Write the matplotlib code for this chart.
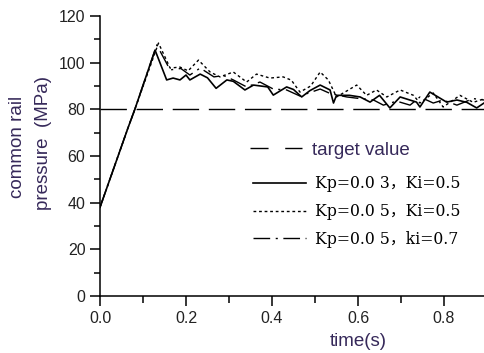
import numpy as np
import matplotlib.pyplot as plt
from matplotlib.lines import Line2D
from matplotlib.ticker import MultipleLocator, FormatStrFormatter

# data
t_a = [0, 0.065, 0.081, 0.128, 0.155, 0.17, 0.186, 0.2, 0.209, 0.233, 0.25, 0.27,
       0.295, 0.31, 0.337, 0.357, 0.39, 0.403, 0.434, 0.45, 0.469, 0.488, 0.512,
       0.535, 0.543, 0.55, 0.58, 0.605, 0.628, 0.65, 0.674, 0.698, 0.736, 0.744,
       0.767, 0.806, 0.83, 0.853, 0.876, 0.893]
p_a = [38, 72, 80, 105.4, 92.6, 93.4, 92.6, 94.7, 92.6, 95.1, 93.5, 89,
       92.6, 92, 88.3, 90.4, 89.6, 86.1, 89.6, 88.5, 85.3, 88, 90.4,
       88.3, 82.7, 86, 86, 85.3, 83.1, 86, 80.6, 85.3, 83.1, 81,
       87.4, 83.1, 84, 83, 80.6, 82.7]

t_b = [0, 0.065, 0.081, 0.136, 0.163, 0.186, 0.205, 0.229, 0.256, 0.279, 0.31,
       0.341, 0.364, 0.395, 0.426, 0.445, 0.465, 0.49, 0.512, 0.531, 0.55, 0.575,
       0.597, 0.62, 0.643, 0.667, 0.698, 0.729, 0.744, 0.775, 0.798, 0.837, 0.868,
       0.893]
p_b = [38, 72, 80, 108.4, 97.7, 98.1, 96.5, 101.1, 96, 93.9, 96,
       91.7, 95.1, 93.4, 93.9, 92.5, 87.4, 90, 96, 92.6, 85.3, 88,
       90.4, 86, 88.3, 85.3, 88.3, 86, 82.7, 87, 81, 86, 83,
       84.5]

t_c = [0, 0.065, 0.081, 0.132, 0.163, 0.188, 0.209, 0.233, 0.265, 0.287, 0.31,
       0.341, 0.372, 0.403, 0.434, 0.465, 0.512, 0.535, 0.574, 0.605, 0.636,
       0.659, 0.69, 0.721, 0.744, 0.775, 0.798, 0.83, 0.868, 0.893]
p_c = [38, 72, 80, 107.6, 96.9, 97.5, 94.7, 97.7, 93.9, 94.5, 92.6,
       89.6, 91.7, 88.7, 88.3, 85.7, 88.7, 86.8, 85.3, 84.6, 84,
       81.8, 83.5, 81.8, 85.3, 82.7, 84, 81.8, 84.6, 84]

target = 80
target_label = 'target value'
labels = ['Kp=0.0 3，Ki=0.5', 'Kp=0.0 5，Ki=0.5', 'Kp=0.0 5，ki=0.7']

txt_col = '#36295a'

fig = plt.figure(figsize=(4.84, 3.53), dpi=100)
ax = fig.add_axes([100/484, 57/353, 384/484, 280/353])

ax.plot([0, 0.893], [target, target], color='black', lw=1.0, dashes=(19, 7))
h1, = ax.plot(t_a, p_a, color='black', lw=1.2)
h2, = ax.plot(t_b, p_b, color='black', lw=1.0, dashes=(2, 2))
h3, = ax.plot(t_c, p_c, color='black', lw=1.0, dashes=(12, 4, 1.5, 4))

ax.set_xlim(0, 0.893)
ax.set_ylim(0, 120)
ax.spines['top'].set_visible(False)
ax.spines['right'].set_visible(False)
ax.spines['left'].set_linewidth(1.1)
ax.spines['bottom'].set_linewidth(1.1)
ax.xaxis.set_major_locator(MultipleLocator(0.2))
ax.xaxis.set_minor_locator(MultipleLocator(0.1))
ax.xaxis.set_major_formatter(FormatStrFormatter('%.1f'))
ax.yaxis.set_major_locator(MultipleLocator(20))
ax.yaxis.set_minor_locator(MultipleLocator(10))
ax.tick_params(which='major', length=7, width=1.1, labelsize=11.5, labelcolor='#222222')
ax.tick_params(which='minor', length=4, width=1.1)
ax.tick_params(axis='x', which='minor', length=5)
for lab in ax.get_xticklabels() + ax.get_yticklabels():
    lab.set_family('Liberation Sans')

fig.text(358/484, 1 - 341/353, 'time(s)', ha='center', va='center',
         fontsize=13.5, color=txt_col, family='Liberation Sans')
fig.text(18/484, 1 - 147/353, 'common rail', rotation=90, ha='center', va='center',
         fontsize=13.5, color=txt_col, family='Liberation Sans')
fig.text(44/484, 1 - 143/353, 'pressure  (MPa)', rotation=90, ha='center', va='center',
         fontsize=13.5, color=txt_col, family='Liberation Sans')

# legend for the target line, own entry (larger sans text)
tgt_handle = Line2D([], [], color='black', lw=1.0, dashes=(13, 12))
leg1 = ax.legend([tgt_handle], [target_label], loc='center left',
                 bbox_to_anchor=(150/384, (296 - 150)/280), frameon=False,
                 borderpad=0, borderaxespad=0, handlelength=2.77, handletextpad=0.53,
                 prop={'family': 'Liberation Sans', 'size': 13.5})
leg1.get_texts()[0].set_color(txt_col)
ax.add_artist(leg1)

leg2 = ax.legend([h1, h2, h3], labels, loc='center left',
                 bbox_to_anchor=(153/384, (296 - 211.5)/280), frameon=False,
                 borderpad=0, borderaxespad=0, handlelength=3.4, handletextpad=0.52,
                 labelspacing=0.7,
                 prop={'family': ['DejaVu Serif', 'Noto Sans CJK SC'], 'size': 11.3})

fig.savefig('out.png', dpi=100)
